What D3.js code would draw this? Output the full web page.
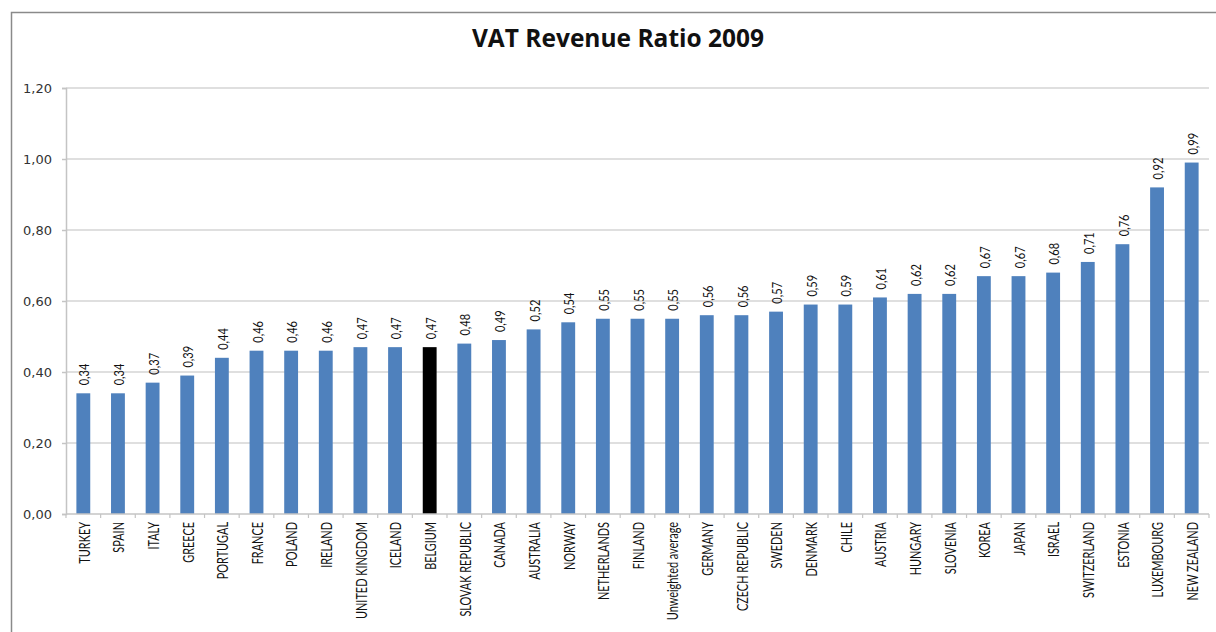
<!DOCTYPE html>
<html>
<head>
<meta charset="utf-8">
<script src="https://cdn.jsdelivr.net/npm/d3@7"></script>
<style>
  html, body { margin: 0; padding: 0; background: #fff; }
  svg { display: block; }
</style>
</head>
<body>
<svg id="chart" width="1216" height="632"></svg>
<script>
// VAT revenue ratio by country, 2009
const countries = [
  "TURKEY", "SPAIN", "ITALY", "GREECE", "PORTUGAL", "FRANCE", "POLAND", "IRELAND",
  "UNITED KINGDOM", "ICELAND", "BELGIUM", "SLOVAK REPUBLIC", "CANADA", "AUSTRALIA",
  "NORWAY", "NETHERLANDS", "FINLAND", "Unweighted average", "GERMANY", "CZECH REPUBLIC",
  "SWEDEN", "DENMARK", "CHILE", "AUSTRIA", "HUNGARY", "SLOVENIA", "KOREA", "JAPAN",
  "ISRAEL", "SWITZERLAND", "ESTONIA", "LUXEMBOURG", "NEW ZEALAND"
];
const ratios = [
  0.34, 0.34, 0.37, 0.39, 0.44, 0.46, 0.46, 0.46,
  0.47, 0.47, 0.47, 0.48, 0.49, 0.52,
  0.54, 0.55, 0.55, 0.55, 0.56, 0.56,
  0.57, 0.59, 0.59, 0.61, 0.62, 0.62, 0.67, 0.67,
  0.68, 0.71, 0.76, 0.92, 0.99
];
const highlighted = ["BELGIUM"];
const yTicks = [0, 0.2, 0.4, 0.6, 0.8, 1.0, 1.2];
const title = "VAT Revenue Ratio 2009";

const data = countries.map((c, i) => ({ country: c, value: ratios[i] }));

const svg = d3.select("#chart");
const W = 1216, H = 632;
const plot = { left: 66, right: 1209, top: 88, bottom: 514 };

const fmt = v => d3.format(".2f")(v).replace(".", ",");

// outer chart frame
svg.append("rect")
  .attr("x", 11.5).attr("y", 12.5)
  .attr("width", W + 20).attr("height", H + 20)
  .attr("fill", "#fff")
  .attr("stroke", "#8a8a8a")
  .attr("stroke-width", 1.5);

const x = d3.scaleBand()
  .domain(countries)
  .range([plot.left, plot.right])
  .paddingInner(0.6)
  .paddingOuter(0.3);

const y = d3.scaleLinear()
  .domain([0, 1.2])
  .range([plot.bottom, plot.top]);

// horizontal gridlines
svg.append("g")
  .selectAll("line")
  .data(yTicks.filter(t => t > 0))
  .join("line")
  .attr("x1", plot.left).attr("x2", plot.right)
  .attr("y1", d => y(d)).attr("y2", d => y(d))
  .attr("stroke", "#d4d4d4")
  .attr("stroke-width", 1.5);

// y axis
const yAxis = svg.append("g")
  .attr("transform", `translate(${plot.left},0)`)
  .call(d3.axisLeft(y).tickValues(yTicks).tickFormat(fmt).tickSize(4).tickPadding(10));
yAxis.select(".domain").attr("stroke", "#c4c4c4").attr("stroke-width", 1.5);
yAxis.selectAll(".tick line").attr("stroke", "#c4c4c4").attr("stroke-width", 1.5);
yAxis.selectAll(".tick text")
  .attr("font-family", "DejaVu Sans")
  .attr("font-size", 13)
  .attr("fill", "#333");

// bars
svg.append("g")
  .selectAll("rect")
  .data(data)
  .join("rect")
  .attr("x", d => x(d.country))
  .attr("width", x.bandwidth())
  .attr("y", d => y(d.value))
  .attr("height", d => y(0) - y(d.value))
  .attr("fill", d => highlighted.includes(d.country) ? "#000000" : "#4f81bd");

// x axis line with ticks at category boundaries
const xg = svg.append("g");
xg.append("line")
  .attr("x1", plot.left).attr("x2", plot.right)
  .attr("y1", y(0)).attr("y2", y(0))
  .attr("stroke", "#c4c4c4").attr("stroke-width", 1.5);
const bounds = d3.range(countries.length + 1).map(i => plot.left + (plot.right - plot.left) * i / countries.length);
xg.selectAll("line.tk")
  .data(bounds)
  .join("line")
  .attr("class", "tk")
  .attr("x1", d => d).attr("x2", d => d)
  .attr("y1", y(0)).attr("y2", y(0) + 4)
  .attr("stroke", "#c4c4c4").attr("stroke-width", 1.2);

// category labels, rotated
const cx = d => x(d) + x.bandwidth() / 2;
svg.append("g")
  .selectAll("text")
  .data(countries)
  .join("text")
  .attr("transform", d => `translate(${cx(d) + 0.5},${y(0) + 8}) rotate(-90) scale(0.78,1.12)`)
  .attr("text-anchor", "end")
  .attr("dominant-baseline", "central")
  .attr("font-family", "Lato")
  .attr("font-size", 14)
  .attr("fill", "#111")
  .text(d => d);

// value labels above each bar
svg.append("g")
  .selectAll("text")
  .data(data)
  .join("text")
  .attr("transform", d => `translate(${cx(d.country) + 0.5},${y(d.value) - 8}) rotate(-90) scale(0.85,1.1)`)
  .attr("text-anchor", "start")
  .attr("dominant-baseline", "central")
  .attr("font-family", "Lato")
  .attr("font-size", 13)
  .attr("fill", "#111")
  .text(d => fmt(d.value));

// title
svg.append("text")
  .attr("x", 618).attr("y", 47)
  .attr("text-anchor", "middle")
  .attr("font-family", "Open Sans")
  .attr("font-weight", "bold")
  .attr("font-size", 24.5)
  .attr("fill", "#111")
  .text(title);
</script>
</body>
</html>
